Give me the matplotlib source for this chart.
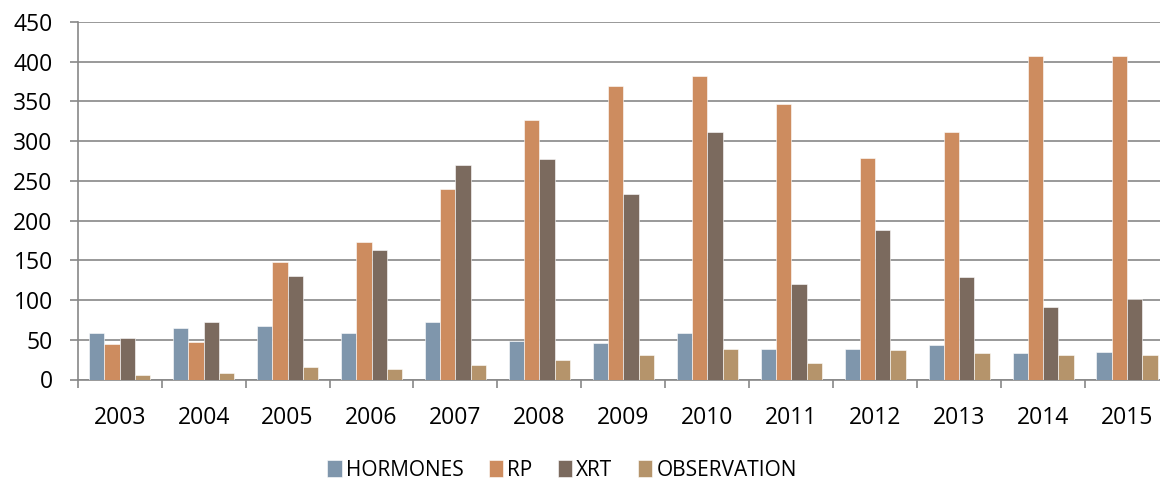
import numpy as np
import matplotlib.pyplot as plt

plt.rcParams['font.family'] = ['Open Sans', 'DejaVu Sans']

# Data
years = ["2003", "2004", "2005", "2006", "2007", "2008", "2009",
         "2010", "2011", "2012", "2013", "2014", "2015"]
hormones = [59, 65, 67, 58, 72, 48, 46, 59, 39, 39, 44, 33, 35]
rp = [45, 47, 148, 173, 240, 327, 370, 382, 347, 279, 311, 407, 407]
xrt = [52, 72, 130, 163, 270, 278, 233, 312, 120, 188, 129, 91, 101]
observation = [6, 8, 16, 13, 18, 24, 31, 38, 21, 37, 33, 31, 31]

series = [("HORMONES", hormones, "#7f96ac"),
          ("RP", rp, "#cd8c5f"),
          ("XRT", xrt, "#7b6a5e"),
          ("OBSERVATION", observation, "#b5946b")]

grid_col = "#888888"

fig = plt.figure(figsize=(11.6, 4.82), dpi=100)
ax = fig.add_axes([77.7 / 1160, 1 - 379.5 / 482, (1169 - 77.7) / 1160, 357.5 / 482])

x = np.arange(len(years))
bw = 0.182
offsets = (np.arange(4) - 1.5) * bw
for (name, vals, col), off in zip(series, offsets):
    ax.bar(x + off, vals, width=bw, color=col, edgecolor="white",
           linewidth=0.4, label=name, zorder=3)

ax.set_xlim(-0.5, len(years) - 0.5)
ax.set_ylim(0, 450)
ax.set_yticks(np.arange(0, 451, 50))
ax.yaxis.grid(True, color=grid_col, linewidth=1.2, zorder=0)
ax.set_axisbelow(True)

# boundaries get tick marks, centres get labels
ax.set_xticks(np.arange(len(years) + 1) - 0.5)
ax.set_xticklabels([])
ax.set_xticks(x, minor=True)
ax.set_xticklabels(years, minor=True)
ax.tick_params(axis='x', which='major', length=6, width=1.2, color=grid_col)
ax.tick_params(axis='x', which='minor', length=0, pad=19, labelsize=16.5)
ax.tick_params(axis='y', length=6, width=1.2, color=grid_col, pad=12, labelsize=16.5)

for s in ("top", "right"):
    ax.spines[s].set_visible(False)
for s in ("left", "bottom"):
    ax.spines[s].set_color(grid_col)
    ax.spines[s].set_linewidth(1.2)

fig.legend(loc="center", bbox_to_anchor=(562 / 1160, 1 - 470 / 482), ncol=4,
           frameon=False, fontsize=15, handlelength=0.7, handleheight=0.85,
           handletextpad=0.2, columnspacing=1.2, borderaxespad=0)

fig.savefig("out.png", dpi=100)
